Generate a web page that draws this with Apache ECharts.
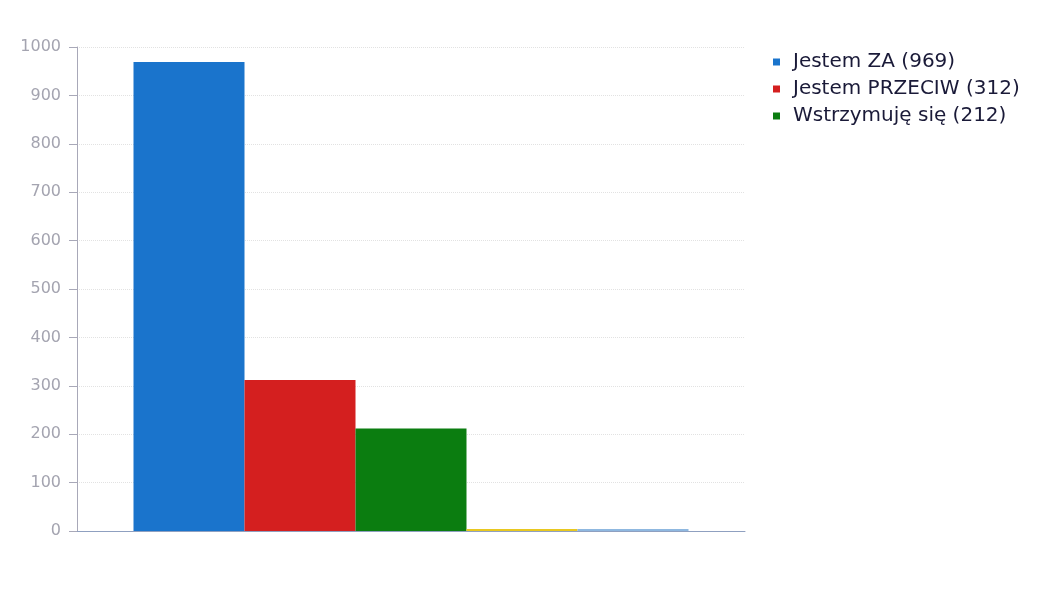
<!DOCTYPE html>
<html><head><meta charset="utf-8">
<script src="https://cdn.jsdelivr.net/npm/echarts@6/dist/echarts.min.js"></script>
<style>html,body{margin:0;padding:0;background:#fff}#c{width:1051px;height:603px}</style>
</head><body><div id="c"></div>
<script>
const categories = [''];
const seriesNames = ['Jestem ZA (969)', 'Jestem PRZECIW (312)', 'Wstrzymuję się (212)', 'extra1', 'extra2'];
const seriesValues = [969, 312, 212, 0, 0];
const legendNames = ['Jestem ZA (969)', 'Jestem PRZECIW (312)', 'Wstrzymuję się (212)'];
const colors = ['#1a74cc', '#d41f1f', '#0b7d10', '#e8c820', '#8fb8e0'];

const chart = echarts.init(document.getElementById('c'));
chart.setOption({
  animation: false,
  grid: { left: 77, right: 306, top: 47, bottom: 72 },
  legend: {
    data: legendNames, orient: 'vertical', left: 768, top: 46,
    icon: 'rect', itemWidth: 7, itemHeight: 7, itemGap: 5,
    textStyle: { fontFamily: 'DejaVu Sans', fontSize: 20, lineHeight: 22, color: '#1a1a38', padding: [0, 0, 0, 8] }
  },
  xAxis: {
    type: 'category', data: categories,
    axisLine: { lineStyle: { color: '#8fa0c0' } }, axisTick: { show: false }, axisLabel: { show: false }
  },
  yAxis: {
    type: 'value', min: 0, max: 1000, interval: 100,
    axisLine: { show: true, lineStyle: { color: '#a8a8b8' } },
    axisTick: { show: true, length: 8, lineStyle: { color: '#a8a8b8' } },
    axisLabel: { fontFamily: 'DejaVu Sans', fontSize: 16, color: '#a4a4b0', margin: 16, formatter: v => String(v) },
    splitLine: { lineStyle: { color: '#e2e2e2', type: 'dotted' } }
  },
  series: seriesNames.map((n, i) => ({
    name: n, type: 'bar', data: [seriesValues[i]], barWidth: 111, barGap: '0%',
    barMinHeight: seriesValues[i] === 0 ? 2 : 0,
    itemStyle: { color: colors[i] }
  }))
});
</script></body></html>
